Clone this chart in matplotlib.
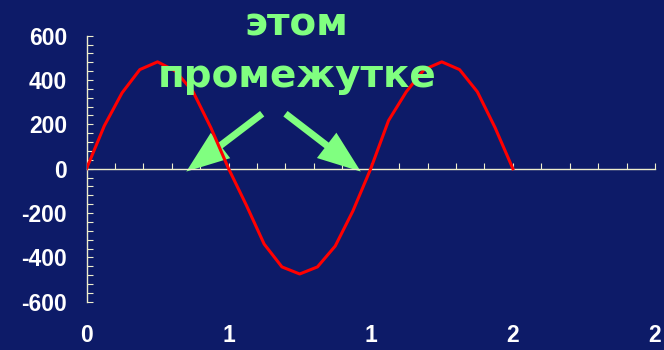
import matplotlib
matplotlib.use("Agg")
import matplotlib.pyplot as plt
from matplotlib.ticker import MultipleLocator, FixedLocator, FixedFormatter

# ---- data ----
x_vals = [0, 0.0625, 0.125, 0.1875, 0.25, 0.3125, 0.375, 0.4375, 0.5,
          0.5625, 0.625, 0.6875, 0.75, 0.8125, 0.875, 0.9375, 1.0,
          1.0625, 1.125, 1.1875, 1.25, 1.3125, 1.375, 1.4375, 1.5]
y_vals = [0, 193, 342, 447, 482, 441, 347, 185, 0,
          -165, -340, -443, -475, -443, -349, -190, 0,
          217, 347, 447, 482, 447, 347, 185, 0]
xtick_pos = [0, 0.5, 1.0, 1.5, 2.0]
xtick_labels = ["0", "1", "1", "2", "2"]
ytick_pos = [-600, -400, -200, 0, 200, 400, 600]
ytick_labels = ["-600", "-400", "-200", "0", "200", "400", "600"]
title_lines = ["этом", "промежутке"]

BG = "#0D1B68"
AXC = "#EEEECC"
GREEN = "#80FF80"

W, H = 664, 350
fig = plt.figure(figsize=(W / 100, H / 100), dpi=100, facecolor=BG)
ax = fig.add_axes([86.5 / W, 1 - 301.7 / H, (655 - 86.5) / W, (301.7 - 35.7) / H])
ax.set_facecolor(BG)

ax.plot(x_vals, y_vals, color="#FF0000", lw=2.2, zorder=6, solid_joinstyle="round")

ax.set_xlim(0, 2)
ax.set_ylim(-600, 600)

for s in ("top", "right"):
    ax.spines[s].set_visible(False)
ax.spines["bottom"].set_position(("data", 0))
ax.spines["bottom"].set_color(AXC)
ax.spines["left"].set_color(AXC)
ax.spines["bottom"].set_linewidth(1.0)
ax.spines["left"].set_linewidth(1.0)
ax.spines["bottom"].set_zorder(4)

ax.xaxis.set_major_locator(FixedLocator(xtick_pos))
ax.xaxis.set_major_formatter(FixedFormatter(xtick_labels))
ax.xaxis.set_minor_locator(MultipleLocator(0.1))
ax.yaxis.set_major_locator(FixedLocator(ytick_pos))
ax.yaxis.set_major_formatter(FixedFormatter(ytick_labels))
ax.yaxis.set_minor_locator(MultipleLocator(40))

ax.tick_params(axis="x", which="both", direction="in", length=4, width=0.8,
               color=AXC)
ax.tick_params(axis="x", which="major", pad=111.5, labelsize=16.5,
               labelcolor="white")
ax.tick_params(axis="y", which="both", direction="in", length=4.5, width=0.8,
               color=AXC)
ax.tick_params(axis="y", which="major", pad=14, labelsize=16.5,
               labelcolor="white")
for lab in ax.get_xticklabels() + ax.get_yticklabels():
    lab.set_fontfamily("Liberation Sans")
    lab.set_fontweight("bold")

# title text
fig.text(296 / W, 1 - 35 / H, title_lines[0], color=GREEN, fontsize=28,
         fontweight="bold", family="DejaVu Sans", ha="center", va="baseline",
         zorder=3)
fig.text(297.5 / W, 1 - 87 / H, title_lines[1], color=GREEN, fontsize=28,
         fontweight="bold", family="DejaVu Sans", ha="center", va="baseline",
         zorder=3)

# arrows
style = "simple,head_length=31,head_width=23,tail_width=5"
for (x0, y0), (x1, y1) in [((0.618, 248), (0.351, -13)),
                           ((0.700, 248), (0.965, -13))]:
    ax.annotate("", xy=(x1, y1), xytext=(x0, y0), annotation_clip=False,
                arrowprops=dict(arrowstyle=style, mutation_scale=1,
                                color=GREEN, lw=0, shrinkA=0, shrinkB=0),
                zorder=3)

fig.savefig("out.png", dpi=100, facecolor=BG)
